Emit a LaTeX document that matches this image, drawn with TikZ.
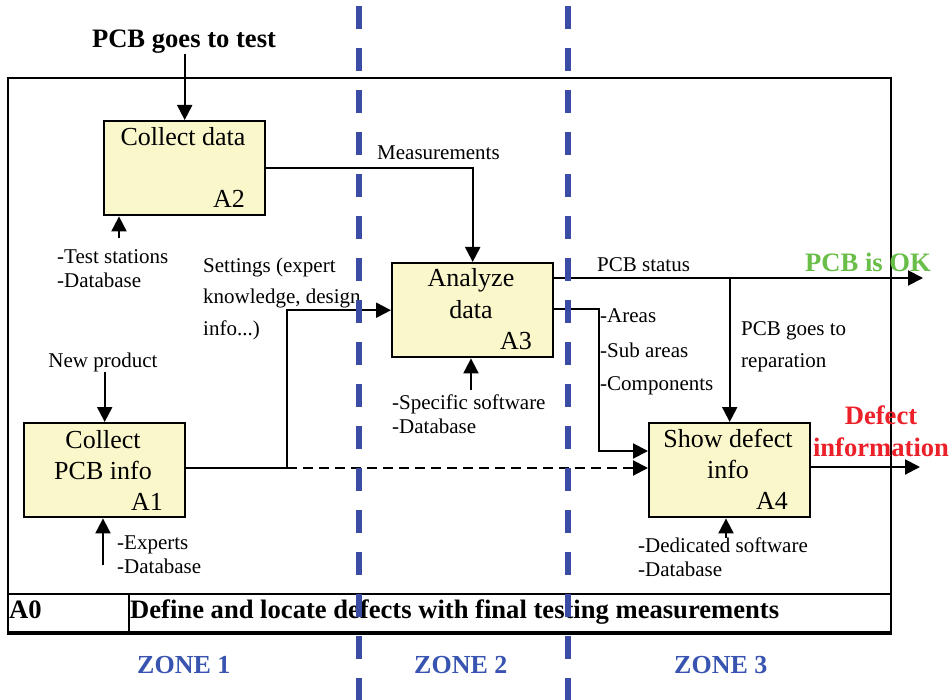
\documentclass[tikz,border=0pt]{standalone}
\usepackage{fontspec}
\setmainfont{Liberation Serif}
\usetikzlibrary{arrows.meta,calc}
\definecolor{boxfill}{RGB}{250,247,202}
\definecolor{zoneblue}{RGB}{58,76,164}
\definecolor{zonetext}{RGB}{56,84,176}
\definecolor{okgreen}{RGB}{104,190,72}
\definecolor{defred}{RGB}{236,32,40}
\tikzset{
  actbox/.style={draw,line width=2.4pt,fill=boxfill,anchor=north west,inner sep=0pt,
                 minimum width=161pt,minimum height=94pt},
  flow/.style={line width=2pt,-{Triangle[length=15pt,width=15pt]}},
  plain/.style={line width=2pt},
  boxtxt/.style={font=\fontsize{26}{30}\selectfont,inner sep=0pt,anchor=base},
  boxnum/.style={font=\fontsize{26}{30}\selectfont,inner sep=0pt,anchor=base east},
  lbl/.style={font=\fontsize{21}{25}\selectfont,inner sep=0pt,anchor=base west},
  boldlbl/.style={font=\fontsize{26.6}{30}\selectfont\bfseries,inner sep=0pt},
  zonelbl/.style={font=\fontsize{26}{30}\selectfont\bfseries,text=zonetext,inner sep=0pt,anchor=base west},
  zoneline/.style={draw=zoneblue,line width=6pt,dash pattern=on 23pt off 19pt},
}
\begin{document}
\begin{tikzpicture}[x=1pt,y=-1pt]
\useasboundingbox (0,0) rectangle (952,700);

% outer frame and title row
\node[draw,line width=2.4pt,anchor=north west,inner sep=0pt,minimum width=883pt,minimum height=554pt] (frame) at (7,77) {};
\node[draw,line width=2.4pt,anchor=north west,inner sep=0pt,minimum width=883pt,minimum height=38pt] (titlerow) at (7,593) {};
\node[draw,line width=2.4pt,anchor=north west,inner sep=0pt,minimum width=121pt,minimum height=38pt] (a0cell) at (7,593) {};
\draw[line width=3pt] (titlerow.south west) -- (titlerow.south east);
\node[boldlbl,anchor=base west] (a0txt) at (9,618) {A0};
\node[boldlbl,anchor=base west] (a0title) at (130,618) {Define and locate defects with final testing measurements};

% activity boxes
\node[actbox] (A2) at (103,120) {};
\node[actbox] (A3) at (391,262) {};
\node[actbox] (A1) at (23,422) {};
\node[actbox] (A4) at (648,422) {};

\node[boxtxt] (A2t) at (183,146) {Collect data};
\node[boxnum] (A2n) at (245,208) {A2};
\node[boxtxt] (A3t1) at (471,287) {Analyze};
\node[boxtxt] (A3t2) at (471,318) {data};
\node[boxnum] (A3n) at (532,349) {A3};
\node[boxtxt] (A1t1) at (103,448) {Collect};
\node[boxtxt] (A1t2) at (103,479) {PCB info};
\node[boxnum] (A1n) at (163,510) {A1};
\node[boxtxt] (A4t1) at (728,447) {Show defect};
\node[boxtxt] (A4t2) at (728,478) {info};
\node[boxnum] (A4n) at (788,509) {A4};

% inputs
\node[boldlbl,anchor=base] (ptest) at (184,48) {PCB goes to test};
\draw[flow] (ptest.south -| A2.north) -- (A2.north);
\node[lbl,anchor=base] (newprod) at (103,367) {New product};
\draw[flow] (newprod.south -| A1.north) -- (A1.north);

% mechanisms
\coordinate (m2) at (119,238);
\draw[flow] (m2) -- (m2 |- A2.south);
\node[lbl] (m2a) at (57,264) {-Test stations};
\node[lbl] (m2b) at (57,288) {-Database};

\coordinate (m3) at (471,390);
\draw[flow] (m3) -- (m3 |- A3.south);
\node[lbl] (m3a) at (392,409) {-Specific software};
\node[lbl] (m3b) at (392,433) {-Database};

\coordinate (m1) at (103,565);
\draw[flow] (m1) -- (m1 |- A1.south);
\node[lbl] (m1a) at (117,549) {-Experts};
\node[lbl] (m1b) at (117,573) {-Database};

\coordinate (m4) at (726,538);
\draw[flow] (m4) -- (m4 |- A4.south);
\node[lbl] (m4a) at (638,552) {-Dedicated software};
\node[lbl] (m4b) at (638,576) {-Database};

% measurements
\draw[flow] (A2.east) -| (A3.north);
\node[lbl] (meas) at (377,160) {Measurements};

% settings from A1
\coordinate (jn) at (287,468);
\draw[plain] (A1.east |- jn) -- (jn);
\draw[flow] (jn) |- (A3.west);
\draw[flow,dash pattern=on 10pt off 6pt] (jn) -- (jn -| A4.west);
\node[lbl] (set1) at (203,273) {Settings (expert};
\node[lbl] (set2) at (203,303) {knowledge, design};
\node[lbl] (set3) at (203,335) {info...)};

% PCB status and OK output
\coordinate (st) at (552,278);
\coordinate (okend) at (923,278);
\draw[flow] (st) -- (okend);
\node[lbl] (stlbl) at (597,272) {PCB status};
\node[boldlbl,anchor=base west,text=okgreen] (ok) at (805,272) {PCB is OK};
\draw[flow] (st -| A4.north) -- (A4.north);
\node[lbl] (rep1) at (741,335) {PCB goes to};
\node[lbl] (rep2) at (741,367) {reparation};

% defect location data
\coordinate (ar) at (599,309);
\coordinate (arin) at (648,451);
\draw[flow] (A3.east |- ar) -- (ar) |- (arin);
\node[lbl] (ar1) at (600,322) {-Areas};
\node[lbl] (ar2) at (600,357) {-Sub areas};
\node[lbl] (ar3) at (600,390) {-Components};

% defect information output
\coordinate (defend) at (920,467);
\draw[flow] (A4.east |- defend) -- (defend);
\node[boldlbl,anchor=base,text=defred] (def1) at (881,424) {Defect};
\node[boldlbl,anchor=base,text=defred] (def2) at (881,456) {information};

% zone separators and labels
\draw[zoneline] (359,6) -- (359,700);
\draw[zoneline] (568,6) -- (568,700);
\node[zonelbl] (z1) at (137,673) {ZONE 1};
\node[zonelbl] (z2) at (414,673) {ZONE 2};
\node[zonelbl] (z3) at (674,673) {ZONE 3};
\end{tikzpicture}
\end{document}
